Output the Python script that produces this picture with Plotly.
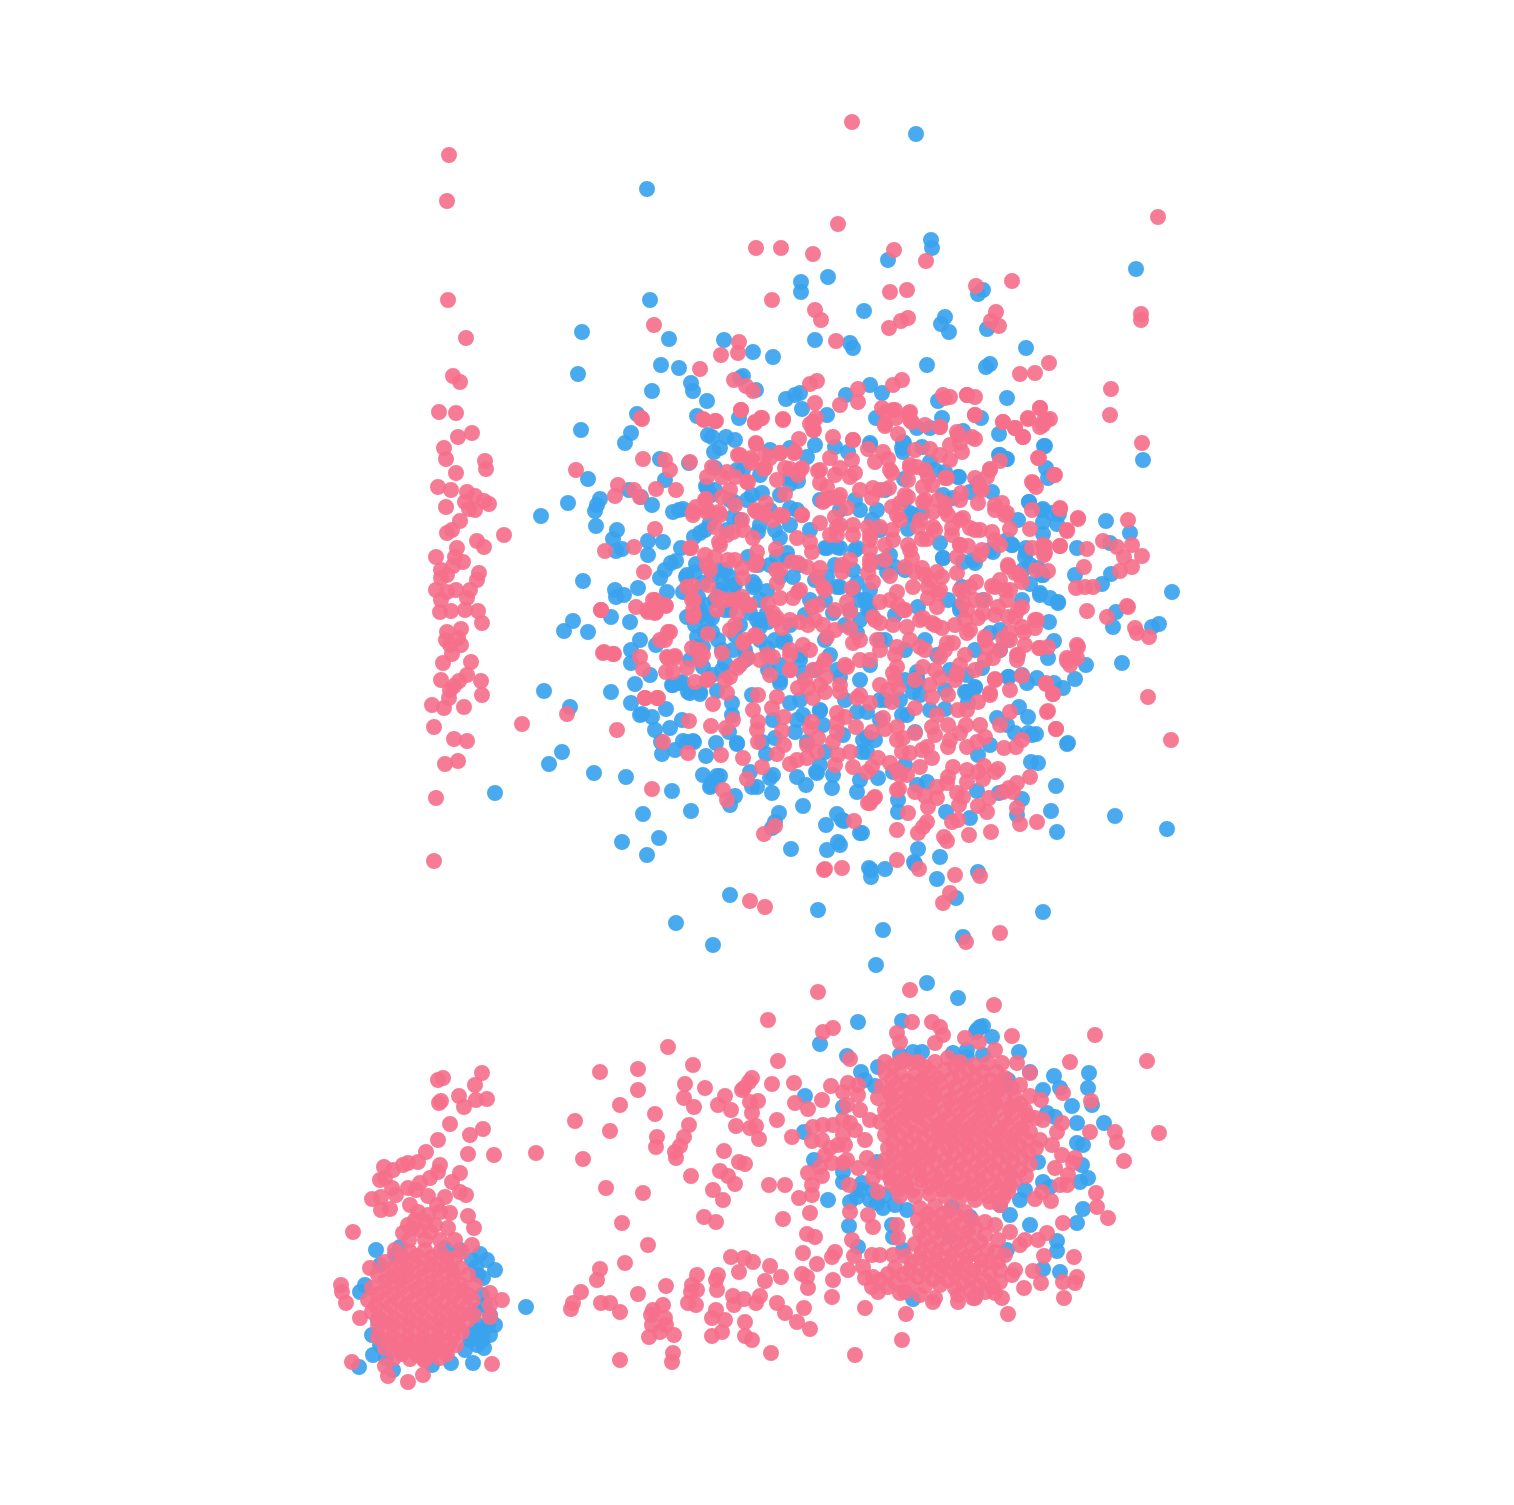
import plotly.graph_objects as go

blue_main = [(916,134),(647,189),(931,240),(932,248),(888,260),(1136,269),(828,277),(801,282),(801,292),(983,290),(978,294),(650,300),(864,311),(945,317),(941,324),(949,332),(987,329),(582,332),(669,339),(724,340),(815,340),(850,343),(853,348),(753,352),(773,357),(1026,348),(661,365),(679,368),(927,365),(990,364),(986,367),(578,374),(743,376),(740,378),(691,383),(693,391),(652,391),(756,390),(800,393),(795,395),(786,399),(846,395),(870,385),(882,393),(938,401),(1007,398),(707,401),(637,414),(697,416),(739,418),(802,409),(827,415),(876,418),(942,418),(981,418),(581,430),(708,435),(726,437),(712,437),(631,433),(625,443),(917,428),(930,428),(963,431),(1044,446),(1143,460),(1000,455),(1006,459),(660,459),(689,463),(720,448),(714,452),(790,448),(807,457),(870,445),(904,443),(903,452),(848,452),(835,447),(588,479),(629,490),(665,480),(1046,468),(1048,478),(959,477),(904,479),(790,478),(798,481),(790,484),(715,490),(711,495),(641,497),(600,499),(597,505),(595,511),(568,503),(541,516),(706,486),(652,505),(673,512),(679,510),(683,509),(730,500),(770,510),(797,510),(1029,502),(1043,509),(1059,514),(1043,522),(1057,524),(1043,534),(1106,521),(1130,533),(1110,543),(596,526),(617,530),(613,539),(616,551),(622,549),(648,541),(663,542),(648,555),(681,548),(694,537),(705,530),(727,530),(740,520),(760,525),(790,525),(810,530),(840,510),(825,548),(840,548),(857,548),(835,565),
(671,563),(676,561),(665,570),(660,578),(638,588),(615,590),(616,597),(624,595),(583,581),(667,592),(686,577),(695,572),(703,583),(690,590),(712,575),(725,570),(735,585),(720,590),(755,585),(770,565),(788,560),(800,565),(815,580),(853,590),(866,600),(870,610),(860,620),(850,610),(887,572),(905,570),(943,558),(975,563),(990,550),(1012,545),(1026,552),(1030,565),(1043,575),(1075,575),(1111,574),(1102,584),(1058,602),(1040,593),(1050,598),(1172,592),(1116,612),(1113,627),(1152,627),(1159,624),(564,631),(573,621),(588,632),(611,617),(630,622),(640,640),(656,645),(697,603),(706,605),(700,615),(712,618),(695,625),(705,632),(718,640),(730,610),(742,600),(760,620),(768,622),(785,640),(800,655),(825,640),(860,600),(885,640),(905,680),(960,610),(1049,622),(1054,641),(1048,658),(1086,665),(1122,663),(1075,679),(1063,688),(1054,683),(1037,678),(1022,675),(631,650),(631,663),(650,675),(635,684),(680,683),(672,685),(688,692),(700,692),(712,675),(700,650),(690,660),(722,670),(733,650),(745,660),(768,655),(768,670),(780,680),(800,700),(820,710),(845,700),(860,680),(870,665),(880,700),(900,700),(917,672),(918,682),(920,695),(945,690),(965,692),(975,688),(544,691),(570,707),(611,692),(631,703),(640,715),(652,717),(655,730),(666,709),(1019,707),(1028,717),(1032,735),(1036,734),(1067,744),(661,742),(662,754),(675,750),(687,742),(694,742),(737,744),(1031,762),(1038,763),(562,752),(549,764),(594,773),(626,777),(703,775),(711,786),(717,776),(495,793),(691,811),(803,806),(1051,811),(1115,816),(1167,829),(1057,832),(643,814),(779,813),(775,822),(772,828),(826,825),(837,814),(842,820),(860,833),(970,818),(946,812),(1017,815),(659,838),(622,842),(647,855),(791,849),(827,850),(840,845),(838,842),(918,849),(940,857),(871,870),(871,877),(885,869),(915,864),(937,879),(978,872),(730,895),(956,898),(676,923),(818,910),(1043,912),(713,945),(883,930),(963,937),(876,965)]

blue_main_upper_left = [(737,470),(743,470),(715,468),(707,488),(752,495),(762,493),(747,500),(734,502),(790,508),(733,517),(700,533),(710,523),(758,532),(780,538),(748,557),(758,565),(777,557),(787,553),(696,564),(720,570),(730,577),(723,583),(733,588),(753,582),(753,587),(767,591),(780,577),(793,577),(827,548),(837,547),(855,550),(853,570),(827,577),(840,587),(857,583),(687,575),(683,592),(698,597),(700,610),(687,617),(707,620),(697,637),(697,647),(703,647),(703,667),(750,613),(757,620),(767,613),(760,627),(837,587),(833,613),(783,642),(767,648),(747,657),(725,663),(800,660),(803,673),(837,670),(857,633),(715,600),(725,610),(740,625),(712,632),(722,650),(735,635),(745,650),(775,640),(790,625),(810,600),(825,600),(805,615),(845,625),(830,655),(815,670),(780,665),(760,640),(760,600),(775,530),(820,500),(855,500),(770,450),(735,440),(815,445),(760,475),(780,495)]

blue_main_upper_right = [(940,543),(943,558),(973,560),(963,562),(993,552),(910,513),(922,513),(908,529),(870,443),(902,448),(903,442),(922,447),(930,462),(945,472),(958,477),(992,492),(978,483),(970,492),(943,495),(953,498),(912,515),(880,562),(895,567),(877,510),(872,520),(870,590),(865,600),(868,610),(918,607),(948,600),(962,587),(983,600),(1012,545),(1007,540),(1026,548),(1025,557),(1030,584),(1040,595),(1058,603),(1023,570),(1038,568),(1042,575),(999,455),(1007,459),(1045,446),(999,434),(1029,502),(1042,510),(1052,513),(1077,548),(982,668),(1009,677),(967,675),(937,655),(1000,650),(1007,640),(960,607),(990,633),(880,640),(895,615),(905,650),(925,640),(950,670),(975,650),(880,530),(890,555),(860,510),(885,490),(905,500),(935,470),(1018,520),(1022,600),(1000,630)]

blue_main_lower = [(673,685),(682,682),(690,693),(700,694),(717,691),(732,703),(732,715),(729,732),(752,695),(780,683),(790,703),(773,720),(797,720),(803,715),(795,732),(775,738),(762,742),(820,711),(823,725),(843,735),(867,737),(867,752),(862,752),(880,720),(857,712),(807,742),(825,752),(820,765),(817,773),(840,677),(642,714),(670,728),(693,741),(683,741),(682,720),(706,756),(716,743),(737,743),(766,754),(712,782),(720,776),(710,787),(750,772),(757,787),(752,787),(772,793),(773,775),(770,778),(797,777),(806,785),(816,772),(832,788),(833,775),(857,792),(860,780),(878,778),(735,796),(730,805),(672,791),(844,821),(869,868),(1008,677),(1027,683),(917,683),(913,692),(975,687),(967,692),(968,702),(997,718),(1007,725),(1015,733),(1028,733),(1068,743),(978,755),(1056,786),(977,791),(999,793),(1022,799),(898,800),(898,812),(862,833),(914,862),(927,782),(917,785),(905,765),(893,772),(915,732),(907,715),(945,709),(917,677),(902,715),(867,712),(885,700),(875,740),(863,740),(930,710),(990,745)]

blue_lower_right = [(927,983),(958,998),(858,1022),(902,1021),(976,1032),(983,1026),(820,1044),(847,1056),(861,1072),(865,1080),(875,1086),(878,1067),(900,1055),(913,1052),(922,1052),(953,1053),(967,1050),(967,1057),(980,1027),(977,1030),(992,1037),(983,1055),(1019,1052),(1007,1085),(1008,1080),(1030,1072),(1054,1076),(1060,1088),(1043,1090),(1089,1073),(1088,1088),(1092,1105),(1072,1106),(1077,1123),(1104,1123),(1047,1113),(1055,1117),(1077,1143),(1083,1145),(1082,1165),(1088,1178),(1080,1182),(1038,1162),(1043,1182),(1050,1187),(1083,1209),(1077,1223),(1030,1225),(1020,1200),(1057,1241),(1057,1251),(1060,1272),(1043,1269),(1007,1250),(913,1299),(976,1295),(843,1107),(805,1096),(804,1132),(814,1160),(843,1172),(843,1182),(862,1183),(857,1197),(850,1202),(870,1200),(883,1208),(877,1203),(828,1200),(849,1226),(858,1247),(892,1225),(893,1237),(903,1250),(907,1210),(952,1207),(970,1217),(950,1237),(877,1162),(860,1190),(873,1190),(885,1195),(895,1205),(1025,1190),(1010,1215),(1000,1205)]

blue_lower_left = [(526,1307),(359,1367),(376,1250),(400,1247),(445,1248),(460,1250),(480,1254),(487,1260),(476,1267),(495,1270),(483,1278),(482,1295),(485,1305),(490,1315),(495,1325),(483,1332),(490,1335),(477,1345),(484,1348),(473,1363),(451,1363),(432,1365),(373,1355),(393,1370),(372,1335),(360,1292),(365,1285),(378,1320),(475,1330),(470,1340),(465,1350),(380,1345),(386,1358),(470,1335),(478,1325),(482,1340),(488,1325),(475,1310),(478,1275),(472,1260),(380,1265),(395,1255)]

pink_strip = [(449,155),(447,201),(448,300),(466,338),(453,376),(460,382),(439,412),(456,413),(472,433),(458,437),(444,448),(446,459),(485,461),(486,469),(456,473),(438,487),(451,490),(467,492),(475,496),(484,501),(489,504),(465,502),(446,507),(469,509),(475,510),(460,521),(452,530),(447,533),(504,535),(477,541),(484,547),(457,548),(436,557),(455,557),(463,562),(453,566),(441,570),(447,575),(441,578),(479,573),(477,580),(456,590),(436,590),(447,592),(470,590),(467,598),(441,600),(440,612),(451,611),(465,610),(478,611),(482,623),(447,632),(461,629),(446,640),(458,638),(450,645),(461,645),(452,654),(443,663),(471,662),(467,675),(441,680),(481,681),(459,681),(454,686),(450,690),(482,695),(449,698),(432,705),(444,708),(464,707),(434,727),(454,739),(467,741),(445,764),(458,761),(436,798),(434,861),(522,724),(567,714)]

pink_main = [(852,122),(1158,217),(838,224),(756,248),(781,248),(813,254),(894,250),(926,261),(1012,281),(976,286),(890,292),(907,290),(772,300),(815,310),(821,320),(901,321),(908,318),(889,328),(996,312),(991,321),(999,326),(1141,314),(1141,320),(654,325),(739,342),(721,355),(738,353),(836,341),(1049,363),(1020,374),(1035,373),(700,369),(734,380),(746,386),(753,391),(810,384),(817,381),(893,385),(902,380),(858,389),(975,397),(945,398),(967,395),(1111,389),(1110,415),(1142,443),(641,418),(704,420),(716,421),(741,410),(761,418),(755,422),(783,420),(816,418),(813,430),(810,424),(858,402),(886,412),(895,410),(909,413),(885,424),(910,420),(925,425),(940,427),(975,415),(1003,422),(1015,428),(1023,437),(1040,408),(1028,418),(1043,422),(1040,427),(1047,420),(958,435),(972,437),(853,440),(756,444),(780,453),(795,452),(740,455),(752,460),(770,458),(712,467),(690,462),(665,460),(670,470),(643,459),(576,470),(618,485),(634,490),(656,489),(676,490),(693,512),(705,500),(722,497),(735,477),(748,482),(765,468),(785,468),(800,470),(820,470),(840,468),(855,473),(875,462),(890,470),(910,465),(925,470),(945,478),(975,478),(990,470),(982,490),(1033,483),(1039,458),(1054,475),(1032,510),(1060,509),(1067,531),(1078,519),(1128,520),(1103,541),(1117,547),(1132,545),(1142,556),(1124,557),(1132,567),(1120,571),(1087,549),(1060,546),(1045,546),(1045,553),(1084,567),(1048,571),(1076,588),(1085,587),(1093,587),(1127,606),(1107,617),(1135,628),(1137,633),(1149,637),(1148,697),(1171,740),(1087,611),(1078,647),(1073,658),(1067,661),(1053,694),(1047,712),(1056,729),(1046,684),(1037,620),(1024,632),(1039,648),(1018,610),(1036,570),(1020,575),(1008,567),(1010,590),(995,587),(605,551),(634,547),(655,529),(640,497),(615,496),(601,610),(644,572),(665,605),(655,600),(648,612),(656,612),(604,652),(614,654),(617,730),(657,698),(645,698),(668,632),(660,640),(668,658),(675,658),(673,672),(691,548),(692,600),(694,615),(700,650),(707,680),
(708,510),(720,515),(735,505),(755,510),(765,515),(780,515),(802,515),(825,500),(840,495),(860,490),(880,490),(905,495),(925,500),(945,510),(960,520),(975,530),(995,505),(1005,515),(960,500),(840,525),(870,535),(885,545),(900,520),(920,520),(935,530),(960,545),(980,555),(1000,545),(720,545),(735,560),(755,565),(780,570),(800,590),(825,590),(850,560),(870,565),(885,560),(910,550),(925,575),(940,590),(960,590),(975,600),(995,615),(1010,640),(725,600),(738,600),(750,605),(775,620),(790,620),(815,620),(835,630),(860,640),(875,620),(890,600),(905,610),(920,620),(935,625),(955,625),(970,630),(985,640),(1000,650),(1018,655),(735,625),(745,640),(755,635),(760,660),(740,665),(725,680),(700,660),(790,650),(810,650),(825,660),(845,665),(860,660),(880,650),(895,655),(910,640),(925,650),(945,650),(965,655),(985,660),(995,680),(1010,690),(770,675),(790,670),(805,680),(820,685),(840,685),(860,695),(880,685),(895,680),(915,680),(935,670),(955,680),(975,670),(990,695)]

pink_main_upper_left = [(642,419),(703,419),(715,421),(741,410),(755,423),(762,418),(783,419),(815,403),(840,405),(813,422),(814,430),(833,437),(853,440),(799,439),(756,443),(738,455),(751,458),(751,463),(765,455),(780,453),(794,453),(830,458),(852,460),(790,469),(802,468),(798,475),(764,469),(707,477),(722,477),(727,472),(747,482),(777,480),(818,471),(820,483),(835,475),(850,477),(730,490),(785,494),(827,487),(823,502),(830,498),(838,498),(847,508),(706,499),(696,507),(693,515),(707,512),(719,512),(766,503),(757,512),(763,513),(773,520),(783,516),(802,515),(820,523),(835,517),(837,527),(830,535),(837,535),(853,525),(853,535),(715,527),(742,520),(733,532),(743,530),(727,535),(797,538),(810,542),(812,552),(719,542),(753,538),(757,552),(757,562),(776,549),(690,548),(705,555),(715,557),(707,565),(710,570),(728,560),(742,568),(743,578),(792,562),(798,563),(807,567),(820,568),(817,577),(842,565),(842,572),(776,570),(777,583),(823,587),(852,588),(687,587),(693,586),(708,585),(694,600),(717,597),(733,600),(742,597),(747,605),(780,598),(798,592),(793,598),(768,604),(773,613),(777,618),(812,607),(818,605),(847,602),(835,610),(850,612),(636,607),(653,600),(647,610),(655,613),(666,606),(601,610),(693,610),(693,617),(717,610),(737,613),(730,630),(800,622),(808,625),(823,625),(827,637),(782,628),(850,628),(853,643),(670,632),(665,640),(708,634),(743,643),(757,637),(803,645),(603,653),(613,654),(640,657),(643,669),(667,657),(675,656),(666,672),(687,668),(692,648),(703,655),(722,653),(737,668),(748,658),(767,655),(773,657),(790,655),(790,670),(823,665),(813,670),(847,667)]

pink_main_upper_right = [(967,395),(943,395),(950,397),(975,415),(1003,422),(1015,428),(1023,437),(1028,419),(1040,408),(1043,425),(1050,419),(1038,458),(1055,475),(1032,482),(1036,487),(1000,461),(990,469),(987,477),(980,488),(975,439),(957,432),(940,427),(910,412),(912,422),(898,434),(885,426),(882,408),(893,410),(896,418),(915,450),(930,449),(940,455),(950,460),(950,445),(960,443),(962,452),(868,449),(883,452),(888,459),(892,473),(910,468),(917,467),(908,480),(928,477),(932,485),(923,487),(947,478),(889,488),(873,488),(872,498),(908,497),(900,503),(892,507),(897,515),(923,502),(933,512),(938,500),(945,503),(948,515),(963,518),(961,493),(978,503),(995,510),(1002,503),(1007,513),(1010,529),(1030,529),(1060,508),(1078,518),(1067,530),(1060,546),(1032,548),(1043,545),(1044,555),(918,527),(933,527),(952,528),(952,535),(970,528),(980,530),(992,532),(995,540),(960,545),(968,546),(982,550),(957,557),(927,539),(922,539),(908,545),(870,540),(870,550),(870,560),(892,530),(893,540),(880,527),(868,527),(912,558),(905,567),(915,572),(922,568),(890,576),(868,573),(873,582),(937,572),(942,577),(957,573),(930,580),(913,587),(928,587),(897,592),(970,587),(976,582),(963,592),(992,586),(1000,580),(1008,565),(1015,573),(1022,582),(1005,590),(1007,600),(998,607),(1022,607),(1008,617),(1015,617),(985,600),(983,613),(978,618),(880,602),(898,605),(903,610),(938,593),(928,598),(937,607),(963,603),(967,610),(873,617),(880,623),(893,625),(907,627),(923,618),(932,623),(942,628),(965,620),(967,633),(985,637),(988,648),(993,658),(1003,638),(1010,632),(1022,627),(1035,620),(1035,628),(1025,645),(1017,655),(1017,660),(1040,648),(1048,647),(1077,645),(1067,658),(1077,658),(1070,665),(1128,607),(877,640),(897,647),(870,660),(920,647),(923,667),(947,643),(953,643),(940,657),(960,665),(957,673),(897,667),(893,673)]

pink_main_lower = [(645,698),(658,698),(713,704),(689,721),(711,726),(663,742),(688,753),(721,755),(743,758),(762,767),(747,779),(652,789),(723,790),(727,800),(764,834),(854,821),(868,803),(874,798),(825,869),(842,868),(727,693),(695,682),(708,679),(730,677),(758,695),(777,697),(772,708),(753,710),(758,722),(757,730),(758,742),(733,720),(726,728),(784,717),(782,731),(784,745),(777,754),(790,764),(797,760),(807,758),(818,738),(817,752),(807,745),(812,722),(810,728),(798,688),(808,688),(813,698),(825,692),(840,692),(837,713),(845,717),(837,723),(837,732),(833,742),(856,727),(872,732),(838,755),(850,752),(835,765),(853,767),(867,772),(878,758),(890,763),(826,677),(857,698),(870,703),(883,718),(897,740),(897,770),(897,790),(897,830),(897,860),(995,679),(1022,676),(1046,683),(1053,694),(1010,712),(1048,711),(1056,729),(1000,725),(1004,748),(1016,747),(1022,740),(1030,777),(1017,783),(1013,792),(1003,792),(998,769),(995,772),(984,766),(983,779),(978,772),(967,770),(967,782),(989,798),(978,806),(987,812),(1017,808),(1020,824),(1037,822),(991,832),(969,835),(952,822),(958,820),(944,837),(947,841),(927,822),(918,833),(923,827),(919,869),(955,875),(980,876),(908,813),(870,803),(875,797),(899,789),(915,792),(925,796),(937,798),(928,807),(959,805),(963,797),(957,793),(937,787),(947,783),(948,777),(953,767),(900,775),(907,775),(872,767),(902,752),(910,753),(922,750),(927,747),(932,758),(920,767),(903,738),(915,733),(885,729),(897,727),(915,708),(892,702),(898,688),(888,690),(937,715),(935,735),(932,727),(948,725),(948,747),(950,740),(960,733),(967,710),(958,710),(966,725),(967,747),(977,742),(985,737),(980,725),(978,702),(990,693),(948,695),(932,697),(940,678),(930,685),(957,675),(750,901),(765,907),(943,903),(950,893),(1000,933),(966,942),(824,870),(775,826),(1009,788)]

pink_lower_mid = [(818,992),(768,1020),(668,1047),(600,1072),(638,1069),(693,1065),(778,1061),(638,1090),(685,1084),(705,1088),(725,1096),(744,1088),(742,1090),(749,1082),(752,1078),(772,1084),(794,1083),(684,1098),(694,1107),(718,1105),(620,1105),(750,1102),(758,1101),(795,1103),(655,1114),(575,1121),(731,1110),(752,1113),(736,1126),(750,1128),(756,1126),(777,1120),(689,1125),(610,1131),(657,1137),(684,1137),(680,1146),(656,1147),(759,1139),(792,1137),(724,1151),(536,1153),(675,1152),(676,1158),(583,1159),(739,1162),(745,1164),(720,1171),(728,1176),(735,1184),(691,1176),(769,1185),(785,1185),(606,1188),(713,1190),(643,1193),(723,1200),(799,1198),(622,1223),(704,1217),(716,1222),(783,1219),(807,1234),(815,1237),(648,1245),(731,1257),(744,1258),(753,1262),(600,1269),(625,1263),(770,1266),(739,1272),(697,1275),(718,1275),(716,1280),(597,1280),(765,1281),(781,1277),(802,1274),(666,1286),(692,1285),(691,1292),(581,1292),(638,1294),(717,1290),(697,1290),(760,1296),(733,1296),(744,1299),(573,1303),(601,1303),(610,1303),(571,1309),(688,1303),(663,1305),(620,1312),(653,1310),(651,1315),(665,1318),(696,1305),(716,1310),(734,1305),(756,1303),(777,1303),(785,1313),(804,1308),(797,1322),(712,1318),(725,1320),(745,1322),(810,1329),(652,1325),(666,1325),(660,1332),(674,1335),(649,1337),(712,1336),(722,1332),(745,1336),(752,1340),(673,1353),(620,1360),(672,1362),(771,1353),(855,1355),(902,1340)]

pink_lower_right_edges = [(910,990),(994,1005),(823,1032),(833,1028),(850,1059),(831,1086),(843,1092),(848,1083),(858,1085),(858,1095),(822,1100),(808,1109),(847,1105),(813,1127),(823,1125),(833,1125),(843,1120),(850,1123),(812,1141),(822,1140),(838,1145),(843,1135),(825,1155),(832,1163),(820,1167),(822,1176),(843,1163),(858,1168),(847,1160),(808,1173),(812,1185),(812,1195),(849,1185),(867,1158),(873,1167),(873,1178),(878,1192),(810,1213),(850,1212),(868,1215),(873,1227),(897,1225),(898,1238),(852,1240),(854,1256),(872,1255),(880,1255),(893,1255),(863,1267),(848,1270),(865,1278),(873,1277),(872,1287),(878,1292),(888,1287),(900,1293),(832,1257),(835,1252),(817,1264),(803,1253),(833,1280),(832,1297),(807,1277),(808,1288),(865,1308),(906,1314),(958,1302),(933,1302),(973,1298),(1002,1298),(1008,1314),(1024,1288),(1041,1283),(1064,1298),(1063,1282),(1075,1283),(1077,1277),(1074,1257),(1044,1256),(1033,1271),(1015,1270),(1025,1240),(1038,1240),(1047,1233),(1063,1223),(1096,1193),(1097,1207),(1108,1218),(1051,1201),(1035,1199),(1042,1192),(1060,1185),(1067,1185),(1068,1175),(1055,1168),(1062,1155),(1075,1158),(1073,1163),(1052,1145),(1040,1140),(1090,1132),(1115,1132),(1117,1142),(1062,1123),(1043,1120),(1057,1132),(1041,1100),(1063,1093),(1091,1101),(1070,1062),(1095,1035),(1012,1036),(979,1042),(965,1038),(940,1027),(943,1035),(932,1022),(912,1022),(897,1033),(900,1042),(935,1043),(995,1050),(885,1062),(900,1062),(912,1063),(935,1062),(988,1063),(1002,1063),(1017,1063),(1030,1073),(1147,1061),(1159,1133),(1124,1161),(845,1145),(855,1130),(865,1140),(870,1120),(860,1110),(830,1148)]

pink_lower_right_core = [(905,1060),(918,1062),(948,1058),(960,1062),(975,1065),(885,1072),(900,1073),(915,1075),(930,1072),(945,1070),(960,1075),(975,1078),(990,1080),(1005,1078),(1020,1085),(882,1086),(896,1085),(910,1088),(925,1085),(940,1083),(955,1087),(970,1090),(985,1092),(998,1090),(1015,1098),(1030,1096),(878,1098),(892,1098),(906,1100),(920,1098),(935,1096),(950,1100),(965,1102),(980,1104),(995,1104),(1010,1108),(1025,1110),(885,1110),(900,1112),(915,1110),(930,1108),(945,1112),(960,1114),(975,1116),(990,1116),(1005,1120),(1020,1122),(1035,1118),(880,1122),(895,1124),(910,1122),(925,1120),(940,1124),(955,1126),(970,1128),(985,1128),(1000,1132),(1015,1134),(1030,1132),(885,1135),(900,1136),(915,1134),(930,1132),(945,1136),(960,1138),(975,1140),(990,1140),(1005,1144),(1020,1146),(1036,1148),(888,1148),(903,1148),(918,1146),(933,1144),(948,1148),(963,1150),(978,1152),(992,1152),(1007,1156),(1022,1158),(885,1160),(900,1160),(915,1158),(930,1156),(945,1160),(960,1162),(975,1164),(990,1164),(1005,1168),(1020,1170),(882,1172),(897,1172),(912,1170),(927,1168),(942,1172),(957,1174),(972,1176),(987,1176),(1002,1180),(1015,1180),(892,1184),(907,1184),(922,1180),(937,1182),(952,1186),(967,1188),(982,1188),(997,1190),(1008,1192),(900,1196),(915,1196),(930,1194),(945,1196),(960,1198),(975,1200),(990,1202),(1000,1205),
(892,1066),(925,1067),(955,1066),(968,1070),(983,1072),(997,1072),(892,1079),(907,1081),(922,1080),(937,1078),(952,1079),(967,1083),(982,1085),(997,1086),(1012,1088),(889,1092),(903,1092),(917,1093),(932,1090),(947,1092),(962,1095),(977,1097),(992,1098),(1005,1100),(1020,1104),(893,1104),(908,1106),(922,1104),(937,1102),(952,1106),(967,1108),(982,1110),(997,1110),(1012,1114),(1028,1116),(888,1116),(903,1118),(918,1116),(933,1114),(948,1118),(962,1120),(977,1122),(992,1122),(1007,1126),(1022,1128),(892,1129),(907,1130),(922,1128),(937,1126),(952,1131),(967,1133),(982,1134),(997,1135),(1012,1139),(1027,1140),(893,1142),(908,1142),(923,1140),(938,1138),(953,1142),(968,1144),(983,1146),(998,1147),(1013,1151),(1028,1152),(893,1154),(908,1154),(923,1152),(938,1150),(953,1154),(968,1156),(983,1158),(998,1158),(1013,1162),(1030,1164),(890,1166),(905,1166),(920,1164),(935,1162),(950,1166),(965,1168),(980,1170),(995,1170),(1010,1174),(1026,1176),(890,1178),(905,1178),(920,1175),(935,1176),(950,1179),(965,1181),(980,1182),(995,1183),(1010,1186),(898,1190),(913,1190),(928,1187),(943,1189),(958,1192),(973,1194),(988,1196),(1003,1198)]

pink_lower_right_stem = [(920,1208),(935,1206),(950,1210),(965,1212),(985,1222),(995,1225),(918,1220),(932,1218),(945,1222),(960,1224),(975,1228),(998,1240),(920,1232),(935,1232),(950,1236),(965,1238),(980,1242),(995,1252),(1010,1232),(915,1244),(930,1246),(945,1248),(960,1250),(975,1254),(990,1262),(1005,1255),(1020,1245),(905,1256),(920,1258),(935,1260),(950,1262),(965,1264),(980,1268),(1000,1270),(895,1268),(910,1270),(925,1272),(940,1272),(955,1275),(970,1278),(985,1280),(1000,1282),(880,1280),(895,1282),(910,1284),(925,1286),(940,1285),(955,1288),(970,1290),(985,1292),(905,1292),(920,1295),(935,1298),(958,1295),(975,1298),(995,1293),
(927,1214),(942,1214),(957,1216),(972,1220),(926,1226),(940,1226),(953,1230),(968,1232),(985,1235),(925,1239),(940,1240),(957,1243),(972,1246),(987,1250),(922,1252),(937,1253),(952,1255),(967,1257),(982,1260),(998,1262),(912,1263),(928,1265),(943,1266),(958,1269),(973,1271),(990,1273),(903,1275),(918,1277),(933,1279),(948,1280),(963,1283),(978,1285),(993,1287),(888,1274),(1012,1275)]

pink_lower_left_tail = [(482,1073),(438,1080),(443,1078),(475,1085),(459,1096),(439,1103),(441,1101),(464,1107),(476,1100),(487,1099),(450,1124),(483,1129),(470,1135),(438,1140),(426,1152),(468,1154),(494,1155),(384,1167),(393,1170),(403,1165),(408,1163),(418,1162),(440,1165),(438,1172),(460,1173),(385,1178),(380,1180),(430,1178),(420,1183),(392,1188),(408,1188),(416,1190),(396,1195),(452,1182),(460,1192),(466,1195),(372,1199),(381,1197),(428,1196),(445,1197),(410,1205),(381,1210),(390,1209),(437,1205),(468,1216),(450,1213),(474,1228),(353,1232),(403,1233),(415,1220),(428,1215),(440,1212),(420,1230),(435,1225),(448,1228),(455,1240),(462,1252),(472,1245),(409,1240),(425,1240),(440,1240),(370,1268),(341,1285),(342,1292),(346,1303),(360,1318),(412,1228),(425,1222),(430,1232),(418,1212),(408,1225)]

pink_lower_left_core = [(395,1250),(410,1252),(425,1250),(440,1252),(455,1258),(385,1262),(400,1264),(415,1262),(430,1264),(445,1265),(460,1268),(378,1275),(393,1276),(408,1275),(423,1276),(438,1277),(453,1278),(468,1275),(372,1288),(387,1288),(402,1287),(417,1289),(432,1289),(447,1290),(462,1290),(475,1285),(368,1300),(383,1300),(398,1300),(413,1301),(428,1301),(443,1302),(458,1302),(473,1300),(490,1293),(502,1300),(490,1305),(372,1312),(387,1313),(402,1312),(417,1313),(432,1313),(447,1314),(462,1314),(474,1315),(378,1325),(393,1325),(408,1325),(423,1326),(438,1326),(453,1326),(468,1320),(490,1317),(378,1337),(393,1337),(408,1338),(423,1338),(438,1338),(453,1336),(462,1332),(385,1348),(400,1349),(415,1350),(430,1350),(445,1350),(456,1345),(394,1358),(410,1359),(425,1360),(440,1358),(352,1362),(492,1364),(385,1366),(388,1376),(408,1382),(423,1375),(424,1360),
(402,1257),(417,1256),(432,1257),(447,1258),(392,1269),(407,1269),(422,1269),(437,1270),(452,1271),(385,1281),(400,1281),(415,1282),(430,1283),(445,1284),(460,1284),(378,1294),(393,1294),(408,1294),(423,1295),(438,1295),(453,1296),(468,1295),(376,1306),(391,1306),(406,1306),(421,1307),(436,1307),(451,1308),(466,1308),(380,1319),(395,1319),(410,1319),(425,1320),(440,1320),(455,1320),(385,1331),(400,1331),(415,1332),(430,1332),(445,1332),(458,1326),(392,1343),(407,1344),(422,1344),(437,1344),(450,1343),(402,1354),(417,1355),(432,1355),(447,1354)]

blue_all = blue_main + blue_main_upper_left + blue_main_upper_right + blue_main_lower + blue_lower_right + blue_lower_left
pink_all = (pink_strip + pink_main + pink_main_upper_left + pink_main_upper_right + pink_main_lower + pink_lower_mid
            + pink_lower_right_edges + pink_lower_right_core + pink_lower_right_stem + pink_lower_left_tail + pink_lower_left_core)


def scatter(points, colour):
    return go.Scatter(
        x=[p[0] for p in points],
        y=[p[1] for p in points],
        mode="markers",
        marker=dict(size=10, color=colour, opacity=0.92, line=dict(width=6, color=colour)),
        hoverinfo="skip",
        showlegend=False,
    )


fig = go.Figure([scatter(blue_all, "#3AA3EE"), scatter(pink_all, "#F6708C")])
fig.update_layout(
    width=1514, height=1505, margin=dict(l=0, r=0, t=0, b=0),
    paper_bgcolor="white", plot_bgcolor="white", showlegend=False,
    xaxis=dict(range=[8, 1522], visible=False),
    yaxis=dict(range=[1513, 8], visible=False),
)
fig.write_html("out.html")
